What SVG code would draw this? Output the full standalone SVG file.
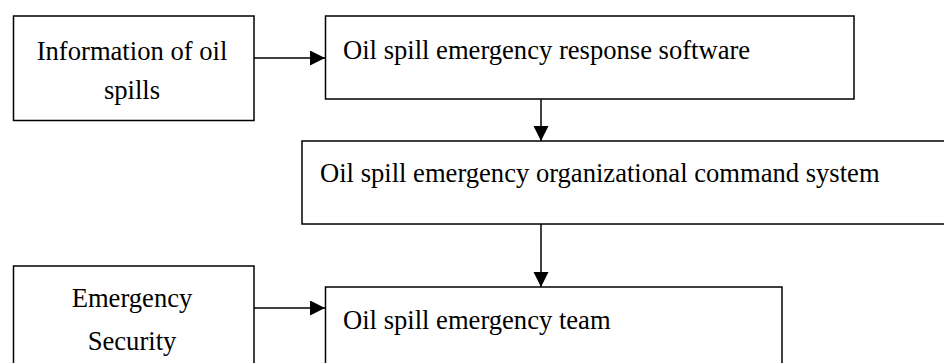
<svg xmlns="http://www.w3.org/2000/svg" width="944" height="363" viewBox="0 0 944 363">
<style>
.box{fill:#fff;stroke:#000;stroke-width:1.5}
.t{font-family:"Liberation Serif","Times New Roman",serif;font-size:26.6px;fill:#000}
.c{text-anchor:middle}
.ln{stroke:#000;stroke-width:1.5;fill:none}
</style>
<defs>
<marker id="ah" markerUnits="userSpaceOnUse" markerWidth="16" markerHeight="16" refX="15" refY="7.5" orient="auto">
<path d="M0,0 L15,7.5 L0,15 Z" fill="#000"/>
</marker>
</defs>
<g id="info">
<rect class="box" x="13.5" y="16" width="240.5" height="104.5"/>
<text class="t c" x="132" y="60">Information of oil</text>
<text class="t c" x="132" y="99">spills</text>
</g>
<g id="software">
<rect class="box" x="325.5" y="16" width="528.5" height="83"/>
<text class="t" x="343" y="59">Oil spill emergency response software</text>
</g>
<g id="command">
<rect class="box" x="302" y="141" width="660" height="83"/>
<text class="t" x="320" y="182">Oil spill emergency organizational command system</text>
</g>
<g id="security">
<rect class="box" x="13.5" y="266" width="240.5" height="110"/>
<text class="t c" x="132" y="307">Emergency</text>
<text class="t c" x="132" y="350">Security</text>
</g>
<g id="team">
<rect class="box" x="325.5" y="287" width="456.5" height="90"/>
<text class="t" x="343" y="329">Oil spill emergency team</text>
</g>
<g id="connectors">
<line class="ln" x1="254" y1="58" x2="325" y2="58" marker-end="url(#ah)"/>
<line class="ln" x1="541" y1="99" x2="541" y2="141" marker-end="url(#ah)"/>
<line class="ln" x1="541" y1="224" x2="541" y2="287" marker-end="url(#ah)"/>
<line class="ln" x1="254" y1="308" x2="325" y2="308" marker-end="url(#ah)"/>
</g>
</svg>
